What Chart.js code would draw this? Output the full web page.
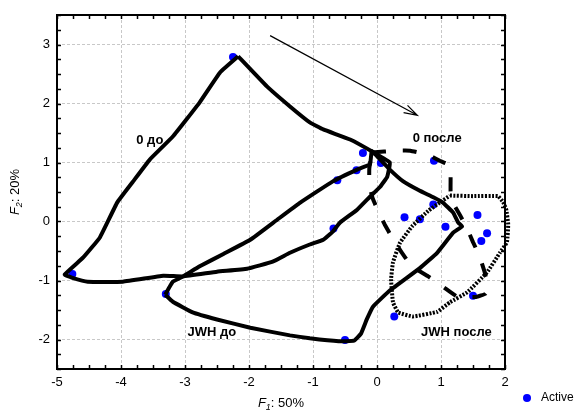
<!DOCTYPE html>
<html>
<head>
<meta charset="utf-8">
<script src="https://cdn.jsdelivr.net/npm/chart.js@4"></script>
<style>
    html, body { margin: 0; padding: 0; background: #fff; }
</style>
</head>
<body>
<canvas id="pcaChart" width="579" height="410"></canvas>
<script>
// Observations (F1, F2 scores)
const activeX = [-2.25, -4.76, -3.30, -0.50, -0.68, 0.43, 0.67, 1.07, 1.57, 1.72, 1.63, 1.50, 0.27, 0.88, -0.22, 0.06, -0.32, -0.62, 0.89];
const activeY = [2.79, -0.89, -1.23, -2.01, -0.12, 0.07, 0.04, -0.09, 0.11, -0.20, -0.33, -1.26, -1.61, 0.29, 1.16, 0.99, 0.87, 0.70, 1.03];

// Hand-drawn group outlines
const outline0Before = [[-2.17, 2.8], [-2.45, 2.53], [-2.77, 2.02], [-3.19, 1.44], [-3.55, 1.05], [-3.81, 0.68], [-4.06, 0.32], [-4.33, -0.27], [-4.59, -0.61], [-4.88, -0.9], [-4.77, -0.95], [-4.52, -1.02], [-3.97, -1.02], [-3.34, -0.92], [-3.03, -0.93], [-2.5, -0.85], [-2.03, -0.8], [-1.63, -0.68], [-1.36, -0.53], [-1.05, -0.39], [-0.84, -0.31], [-0.69, -0.17], [-0.58, -0.02], [-0.31, 0.2], [-0.11, 0.42], [0.05, 0.59], [0.16, 0.76], [0.2, 1.0], [-0.05, 1.17], [-0.42, 1.39], [-0.84, 1.56], [-1.05, 1.68], [-1.36, 1.95], [-1.72, 2.29], [-2.17, 2.8]];
const outlineJwhBefore = [[-3.31, -1.24], [-3.19, -1.02], [-3.03, -0.93], [-2.77, -0.76], [-2.4, -0.55], [-1.98, -0.31], [-1.56, 0.03], [-1.2, 0.32], [-0.69, 0.68], [-0.31, 0.88], [-0.11, 0.97], [-0.08, 1.19], [0.2, 0.88], [0.41, 0.68], [0.67, 0.52], [0.88, 0.41], [1.03, 0.32], [1.19, 0.15], [1.27, -0.02], [1.33, -0.08], [1.19, -0.19], [0.94, -0.53], [0.67, -0.79], [0.2, -1.17], [-0.06, -1.44], [-0.16, -1.66], [-0.25, -1.9], [-0.36, -2.02], [-0.6, -2.03], [-1.05, -1.98], [-1.36, -1.93], [-1.98, -1.8], [-2.5, -1.66], [-2.88, -1.54], [-3.19, -1.36], [-3.31, -1.24]];
const outline0After = [[-0.08, 1.17], [0.3, 1.2], [0.52, 1.2], [0.8, 1.13], [0.98, 1.03], [1.14, 0.95], [1.15, 0.75], [1.15, 0.5], [1.18, 0.33], [1.3, 0.1], [1.4, -0.1], [1.5, -0.35], [1.6, -0.58], [1.68, -0.85], [1.72, -1.05], [1.7, -1.22], [1.55, -1.28], [1.25, -1.27], [1.05, -1.12], [0.8, -0.93], [0.6, -0.8], [0.5, -0.7], [0.39, -0.53], [0.25, -0.3], [0.12, -0.05], [0.02, 0.17], [-0.07, 0.4], [-0.12, 0.63], [-0.12, 0.9], [-0.08, 1.17]];
const outlineJwhAfter = [[1.14, 0.44], [1.5, 0.43], [1.89, 0.43], [1.97, 0.33], [2.02, 0.2], [2.05, -0.05], [2.03, -0.35], [1.92, -0.53], [1.72, -0.86], [1.41, -1.2], [1.14, -1.37], [0.94, -1.53], [0.56, -1.61], [0.33, -1.54], [0.25, -1.37], [0.22, -0.98], [0.25, -0.69], [0.36, -0.36], [0.55, -0.08], [0.8, 0.18], [0.98, 0.32], [1.14, 0.44]];

// Group captions and the shift arrow
const groupLabels = ['0 до', '0 после', 'JWH до', 'JWH после'];
const groupLabelX = [-3.55, 0.94, -2.58, 1.24];
const groupLabelY = [1.37, 1.41, -1.88, -1.88];
const arrowFrom = [-1.67, 3.15];
const arrowTo = [0.63, 1.8];

const xTicks = [-5, -4, -3, -2, -1, 0, 1, 2];
const yTicks = [-2, -1, 0, 1, 2, 3];

const FONT = '"Liberation Sans", Arial, sans-serif';

function toPoints(arr) {
    return arr.map(p => ({ x: p[0], y: p[1] }));
}

function outline(data, dash, width) {
    return {
        type: 'line',
        data: toPoints(data),
        borderColor: '#000',
        borderWidth: width,
        borderDash: dash,
        borderCapStyle: 'butt',
        borderJoinStyle: 'round',
        pointRadius: 0,
        fill: false,
        tension: 0.1,
        clip: false,
        order: 1
    };
}

// Frame, inward minor ticks, captions, arrow, axis titles and legend
const decorations = {
    id: 'decorations',
    afterDatasetsDraw(chart) {
        const ctx = chart.ctx;
        const a = chart.chartArea;
        const xs = chart.scales.x;
        const ys = chart.scales.y;
        ctx.save();

        // minor ticks every 0.25
        ctx.strokeStyle = '#000';
        ctx.lineWidth = 1.5;
        ctx.beginPath();
        for (let v = xs.min; v <= xs.max + 1e-9; v += 0.25) {
            const px = Math.round(xs.getPixelForValue(v)) + 0.5;
            ctx.moveTo(px, a.bottom); ctx.lineTo(px, a.bottom - 4);
            ctx.moveTo(px, a.top); ctx.lineTo(px, a.top + 4);
        }
        for (let v = ys.min; v <= ys.max + 1e-9; v += 0.25) {
            const py = Math.round(ys.getPixelForValue(v)) + 0.5;
            ctx.moveTo(a.left, py); ctx.lineTo(a.left + 4, py);
            ctx.moveTo(a.right, py); ctx.lineTo(a.right - 4, py);
        }
        ctx.stroke();

        // frame
        ctx.lineWidth = 2;
        ctx.strokeRect(a.left, a.top, a.right - a.left, a.bottom - a.top);

        // arrow
        const x1 = xs.getPixelForValue(arrowFrom[0]), y1 = ys.getPixelForValue(arrowFrom[1]);
        const x2 = xs.getPixelForValue(arrowTo[0]), y2 = ys.getPixelForValue(arrowTo[1]);
        const ang = Math.atan2(y2 - y1, x2 - x1);
        ctx.lineWidth = 1.2;
        ctx.beginPath();
        ctx.moveTo(x1, y1); ctx.lineTo(x2, y2);
        ctx.moveTo(x2 - 14 * Math.cos(ang - 0.3), y2 - 14 * Math.sin(ang - 0.3));
        ctx.lineTo(x2, y2);
        ctx.lineTo(x2 - 14 * Math.cos(ang + 0.3), y2 - 14 * Math.sin(ang + 0.3));
        ctx.stroke();

        // group captions
        ctx.fillStyle = '#000';
        ctx.font = 'bold 13px ' + FONT;
        ctx.textAlign = 'center';
        ctx.textBaseline = 'middle';
        groupLabels.forEach((t, i) => {
            ctx.fillText(t, xs.getPixelForValue(groupLabelX[i]), ys.getPixelForValue(groupLabelY[i]));
        });

        // axis titles with italic F and subscript
        function axisTitle(cx, cy, rot, sub, rest) {
            ctx.save();
            ctx.translate(cx, cy);
            ctx.rotate(rot);
            ctx.textAlign = 'left';
            ctx.textBaseline = 'alphabetic';
            ctx.font = 'italic 13px ' + FONT;
            const wF = ctx.measureText('F').width;
            ctx.font = 'italic 9px ' + FONT;
            const wS = ctx.measureText(sub).width;
            ctx.font = '13px ' + FONT;
            const wR = ctx.measureText(rest).width;
            let x = -(wF + wS + wR) / 2;
            ctx.font = 'italic 13px ' + FONT;
            ctx.fillText('F', x, 5); x += wF;
            ctx.font = 'italic 9px ' + FONT;
            ctx.fillText(sub, x, 8); x += wS;
            ctx.font = '13px ' + FONT;
            ctx.fillText(rest, x, 5);
            ctx.restore();
        }
        axisTitle((a.left + a.right) / 2, 402, 0, '1', ': 50%');
        axisTitle(14, (a.top + a.bottom) / 2, -Math.PI / 2, '2', ': 20%');

        // legend
        ctx.fillStyle = '#0000ff';
        ctx.beginPath();
        ctx.arc(527, 398, 4, 0, Math.PI * 2);
        ctx.fill();
        ctx.fillStyle = '#000';
        ctx.font = '12px ' + FONT;
        ctx.textAlign = 'left';
        ctx.textBaseline = 'middle';
        ctx.fillText('Active', 541, 398);

        ctx.restore();
    }
};

const gridColor = (ctx) => {
    const v = ctx.tick ? ctx.tick.value : null;
    const s = ctx.scale;
    if (v === null || v === s.min || v === s.max) return 'rgba(0,0,0,0)';
    return '#c8c8c8';
};

new Chart(document.getElementById('pcaChart').getContext('2d'), {
    data: {
        datasets: [
            outline(outline0Before, [], 4),
            outline(outlineJwhBefore, [], 4),
            outline(outline0After, [14, 17], 4),
            outline(outlineJwhAfter, [2, 1.5], 4),
            {
                type: 'scatter',
                label: 'Active',
                data: activeX.map((x, i) => ({ x: x, y: activeY[i] })),
                backgroundColor: '#0000ff',
                borderWidth: 0,
                pointRadius: 4,
                order: 5
            }
        ]
    },
    options: {
        responsive: false,
        animation: false,
        devicePixelRatio: 1,
        layout: { padding: { top: 15, right: 74, left: 0, bottom: 0 } },
        plugins: { legend: { display: false }, tooltip: { enabled: false } },
        scales: {
            x: {
                type: 'linear',
                min: -5,
                max: 2,
                afterFit: s => { s.height = 41; },
                afterBuildTicks: s => { s.ticks = xTicks.map(v => ({ value: v })); },
                ticks: { color: '#000', font: { family: FONT, size: 13 }, padding: 6 },
                grid: { color: gridColor, lineWidth: 1, drawTicks: false },
                border: { display: false, dash: [3, 2] }
            },
            y: {
                type: 'linear',
                min: -2.5,
                max: 3.5,
                afterFit: s => { s.width = 57; },
                afterBuildTicks: s => { s.ticks = yTicks.map(v => ({ value: v })); },
                ticks: { color: '#000', font: { family: FONT, size: 13 }, padding: 7 },
                grid: { color: gridColor, lineWidth: 1, drawTicks: false },
                border: { display: false, dash: [3, 2] }
            }
        }
    },
    plugins: [decorations]
});
</script>
</body>
</html>
